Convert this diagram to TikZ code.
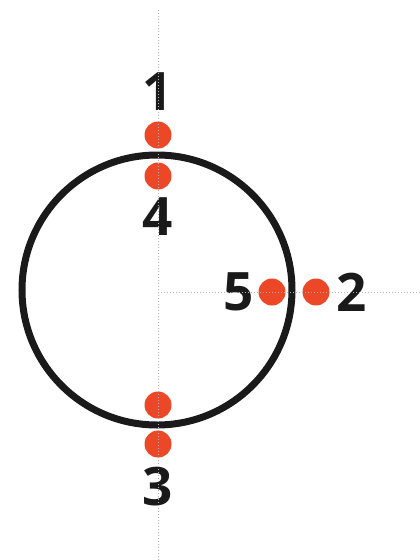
\documentclass[tikz,border=0pt]{standalone}
\usepackage{fontspec}
\setmainfont{Open Sans}
\usetikzlibrary{positioning}
\definecolor{dotred}{RGB}{236,72,40}
\definecolor{ringblack}{RGB}{26,26,26}

\begin{document}
\begin{tikzpicture}[x=1pt, y=-1pt,
  every node/.style={inner sep=0pt, outer sep=0pt},
  spot/.style={circle, fill=dotred, minimum size=27pt},
  num/.style={font=\fontsize{53}{53}\selectfont\bfseries, text=ringblack},
  guide/.style={draw=gray!60, line width=0.8pt, dash pattern=on 0.8pt off 2.2pt}
]
  \useasboundingbox (0,0) rectangle (420,560);

  % the ring
  \coordinate (c) at (157,290);
  \draw[ringblack, line width=7pt] (c) circle[radius=135];

  % the points
  \node[spot] (p1) at (158,135) {};
  \node[spot] (p4) at (158,176) {};
  \node[spot] (p3in) at (158,405) {};
  \node[spot] (p3) at (158,444) {};
  \node[spot] (p5) at (272,292) {};
  \node[spot] (p2) at (316,292) {};

  \node[num, above=11pt of p1] (l1) {1};
  \node[num, below=8pt of p4] (l4) {4};
  \node[num, below=10pt of p3] (l3) {3};
  \node[num, left=5pt of p5] (l5) {5};
  \node[num, right=7pt of p2] (l2) {2};

  % guide lines
  \coordinate (vtop) at (158,10);
  \coordinate (vbot) at (158,560);
  \coordinate (hend) at (420,292);
  \draw[guide] (vtop) -- (vbot);
  \draw[guide] (158,292) -- (hend);
\end{tikzpicture}
\end{document}
